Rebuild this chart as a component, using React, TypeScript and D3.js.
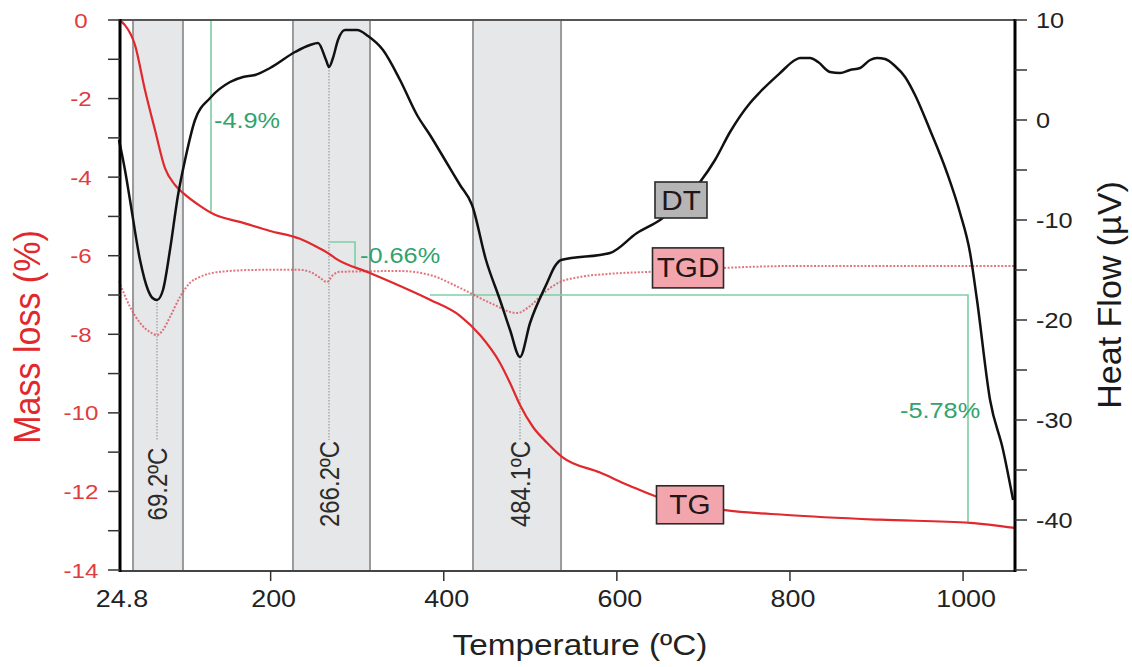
import React from 'react';
import * as d3 from 'd3';

const W = 1132;
const H = 667;

// DT (heat flow, µV) — right axis
const dtTemp = [24.8, 31.7, 37.5, 49.1, 58.3, 63.5, 68.7, 75.6, 83.7, 93.0, 101.1, 112.6, 130.1, 153.1, 168.1, 182.0, 199.3, 228.2, 245.5, 254.7, 264.0, 267.4, 272.0, 277.8, 285.9, 299.8, 312.5, 329.8, 349.5, 369.1, 384.1, 401.5, 418.8, 432.7, 448.8, 465.0, 476.6, 488.1, 499.7, 519.3, 528.6, 535.5, 592.1, 623.3, 649.9, 696.1, 713.4, 730.8, 753.9, 765.5, 788.6, 805.9, 811.7, 823.2, 832.5, 846.3, 857.9, 869.4, 881.0, 892.6, 900.6, 909.9, 921.4, 933.0, 944.5, 961.8, 981.5, 996.5, 1008.1, 1016.1, 1031.2, 1046.2, 1057.8];
const dtHeat = [-2, -5, -8, -14, -17, -17.8, -18, -17, -13, -7.5, -4, 0, 2.2, 3.8, 4.3, 4.5, 5.2, 6.8, 7.5, 7.7, 6, 5.3, 6.2, 8, 9, 9, 8.4, 7, 4, 0.5, -1.5, -4, -6.5, -8.5, -14, -18, -21, -23.7, -20.3, -16.3, -14.6, -14, -13.3, -11.3, -10, -6.2, -4, -1.2, 1.7, 2.8, 4.7, 6, 6.2, 6.2, 5.8, 4.8, 4.7, 5, 5.2, 6, 6.2, 6.1, 5.4, 4.3, 2.5, -1, -5.3, -9.3, -13.3, -18, -28, -33, -38];

// TG (mass loss, %) — left axis
const tgTemp = [24.8, 31.7, 43.3, 54.8, 66.4, 77.9, 89.5, 98.7, 118.4, 135.7, 164.6, 199.3, 233.9, 253.6, 267.4, 274.4, 314.8, 349.5, 384.1, 418.8, 441.9, 465.0, 476.6, 488.1, 503.1, 519.3, 536.6, 580.6, 615.3, 645.4, 722.8, 796.7, 904.2, 1008.1, 1060];
const tgMass = [0, -0.13, -0.64, -1.78, -2.8, -3.77, -4.2, -4.4, -4.73, -4.96, -5.14, -5.37, -5.57, -5.78, -5.95, -6.06, -6.44, -6.77, -7.12, -7.53, -8.02, -8.73, -9.24, -9.8, -10.36, -10.76, -11.12, -11.52, -11.86, -12.13, -12.47, -12.6, -12.72, -12.8, -12.93];

// TGD (derivative, drawn on left-axis scale)
const tgdTemp = [24.8, 37.5, 49.1, 61.0, 68.7, 75.6, 83.7, 95.3, 106.9, 118.4, 141.5, 187.7, 233.9, 245.5, 257.0, 265.1, 272.0, 280.1, 349.5, 384.1, 418.8, 453.5, 484.7, 499.7, 517.0, 534.3, 557.4, 592.1, 638.3, 723.8, 810.5, 926.0, 1060];
const tgdMass = [-6.65, -7.3, -7.71, -7.95, -8.02, -7.89, -7.56, -7.05, -6.69, -6.54, -6.41, -6.36, -6.36, -6.41, -6.56, -6.67, -6.49, -6.41, -6.39, -6.49, -6.82, -7.2, -7.46, -7.28, -6.92, -6.67, -6.54, -6.46, -6.41, -6.31, -6.26, -6.26, -6.26];

// shaded event bands (°C)
const bandStart = [41, 225.8, 433.8];
const bandEnd = [98.7, 314.8, 535.5];

// peaks
const peakTemp = [68.7, 267.4, 488.1];
const peakHeat = [-18, 5.3, -23.7];
const peakLabels = ['69.2ºC', '266.2ºC', '484.1ºC'];

// mass-loss step markers
const step1Temp = [131.1, 131.1];
const step1Mass = [0, -4.9];
const step2Temp = [268.5, 297.5, 297.5];
const step2Mass = [-5.65, -5.65, -6.28];
const step3Temp = [384.1, 1005.7, 1005.7];
const step3Mass = [-7.0, -7.0, -12.77];
const stepLabels = ['-4.9%', '-0.66%', '-5.78%'];
const stepLabelTemp = [134.6, 303.3, 927.2];
const stepLabelMass = [-2.75, -6.18, -10.13];

// series labels
const seriesNames = ['DT', 'TGD', 'TG'];
const seriesLabelTemp = [674.1, 682.2, 684.5];
const seriesLabelVal = [-8, -6.31, -12.34]; // DT on right axis, others left

// ticks
const xTickVals = [24.8, 200, 400, 600, 800, 1000];
const xTickLabels = ['24.8', '200', '400', '600', '800', '1000'];
const leftTicks = d3.range(0, -15, -1);
const rightTicks = d3.range(10, -46, -5);

const FONT = "'Liberation Sans', Arial, Helvetica, sans-serif";
const SX = 1.15;

export default function App() {
  const x = d3.scaleLinear().domain([24.8, 1060]).range([119, 1015]);
  const yL = d3.scaleLinear().domain([0, -14]).range([20, 570]);
  const yR = d3.scaleLinear().domain([10, -45]).range([20, 570]);

  const top = 20, bottom = 571, left = 120, right = 1015;

  const lineL = (ts: number[], vs: number[]) =>
    d3.line<number>().x((_, i) => x(ts[i])).y((v) => yL(v)).curve(d3.curveMonotoneX)(vs) || '';
  const lineR = (ts: number[], vs: number[]) =>
    d3.line<number>().x((_, i) => x(ts[i])).y((v) => yR(v)).curve(d3.curveMonotoneX)(vs) || '';
  const poly = (ts: number[], vs: number[]) =>
    d3.line<number>().x((_, i) => x(ts[i])).y((v) => yL(v))(vs) || '';

  const tf = (px: number, py: number, sx = SX) => `translate(${px},${py}) scale(${sx},1)`;

  const green = '#7ccfa5';
  const greenText = '#2fa36b';
  const redText = '#e23b3d';

  const boxW = [52, 71, 67];
  const boxH = [36, 40, 38];
  const boxFill = ['#b5b5b5', '#f3a5ad', '#f3a5ad'];

  return (
    <svg width={W} height={H} style={{ position: 'absolute', left: 0, top: 0, background: '#fff' }} fontFamily={FONT}>
      <rect x={0} y={0} width={W} height={H} fill="#fff" />
      {/* bands */}
      {bandStart.map((s, i) => (
        <g key={'b' + i}>
          <rect x={x(s)} y={top} width={x(bandEnd[i]) - x(s)} height={bottom - top} fill="#e6e7e9" />
          <line x1={x(s)} x2={x(s)} y1={top} y2={bottom} stroke="#9a9a9a" strokeWidth={2} />
          <line x1={x(bandEnd[i])} x2={x(bandEnd[i])} y1={top} y2={bottom} stroke="#9a9a9a" strokeWidth={2} />
        </g>
      ))}
      {/* step markers */}
      <path d={poly(step1Temp, step1Mass)} fill="none" stroke={green} strokeWidth={1.6} />
      <path d={poly(step2Temp, step2Mass)} fill="none" stroke={green} strokeWidth={1.6} />
      <path d={poly(step3Temp, step3Mass)} fill="none" stroke={green} strokeWidth={1.6} />
      {/* peak dotted lines */}
      {peakTemp.map((p, i) => (
        <line key={'pl' + i} x1={x(p)} x2={x(p)} y1={yR(peakHeat[i])} y2={440} stroke="#9a9a9a" strokeWidth={1.2} strokeDasharray="1.5 1.5" />
      ))}
      {/* TGD */}
      <path d={lineL(tgdTemp, tgdMass)} fill="none" stroke="#d9545e" strokeWidth={2} strokeDasharray="2 1.6" opacity={0.8} />
      {/* TG */}
      <path d={lineL(tgTemp, tgMass)} fill="none" stroke="#e0282d" strokeWidth={2.2} />
      {/* DT */}
      <path d={lineR(dtTemp, dtHeat)} fill="none" stroke="#111" strokeWidth={2.5} strokeLinejoin="round" />

      {/* peak labels */}
      {peakTemp.map((p, i) => (
        <text key={'pt' + i} transform={`translate(${x(p) + 10},${484}) scale(1.12,1) rotate(-90)`} textAnchor="middle" fontSize={24} fill="#2b2b2b">
          {peakLabels[i]}
        </text>
      ))}

      {/* step labels */}
      {stepLabels.map((s, i) => (
        <text key={'sl' + i} transform={tf(x(stepLabelTemp[i]), yL(stepLabelMass[i]))} fontSize={22} fill={greenText}>
          {s}
        </text>
      ))}

      {/* series boxes */}
      {seriesNames.map((n, i) => {
        const cx = x(seriesLabelTemp[i]);
        const cy = i === 0 ? yR(seriesLabelVal[i]) : yL(seriesLabelVal[i]);
        return (
          <g key={'sn' + i}>
            <rect x={cx - boxW[i] / 2} y={cy - boxH[i] / 2} width={boxW[i]} height={boxH[i]} fill={boxFill[i]} stroke="#2a2a2a" strokeWidth={1.6} />
            <text transform={tf(cx, cy + 9.5, 1.1)} textAnchor="middle" fontSize={27} fill="#231616">
              {n}
            </text>
          </g>
        );
      })}

      {/* frame */}
      <line x1={left} x2={right} y1={top} y2={top} stroke="#555" strokeWidth={1.8} />
      <line x1={left} x2={right} y1={bottom} y2={bottom} stroke="#444" strokeWidth={2} />
      <line x1={left} x2={left} y1={top - 1} y2={bottom + 1} stroke="#000" strokeWidth={3} />
      <line x1={right} x2={right} y1={top - 1} y2={bottom + 1} stroke="#000" strokeWidth={3} />

      {/* left ticks */}
      {leftTicks.map((v) => (
        <g key={'lt' + v}>
          <line x1={108} x2={left} y1={yL(v)} y2={yL(v)} stroke="#333" strokeWidth={1.5} />
          {v % 2 === 0 && (
            <text transform={tf(81, yL(v) + 7.5)} textAnchor="middle" fontSize={21} fill={redText}>
              {String(v)}
            </text>
          )}
        </g>
      ))}
      {/* right ticks */}
      {rightTicks.map((v) => (
        <g key={'rt' + v}>
          <line x1={right} x2={1027} y1={yR(v)} y2={yR(v)} stroke="#333" strokeWidth={1.5} />
          {v % 10 === 0 && (
            <text transform={tf(1036, yR(v) + 8)} fontSize={22} fill="#222">
              {String(v)}
            </text>
          )}
        </g>
      ))}
      {/* bottom ticks */}
      {xTickVals.map((t, i) => (
        <g key={'xt' + i}>
          {i > 0 && <line x1={x(t)} x2={x(t)} y1={bottom} y2={581} stroke="#333" strokeWidth={1.5} />}
          <text transform={tf(x(t) + 3, 607, 1.12)} textAnchor="middle" fontSize={24} fill="#222">
            {xTickLabels[i]}
          </text>
        </g>
      ))}

      {/* axis titles */}
      <text transform={tf(580, 655, 1.15)} textAnchor="middle" fontSize={29} fill="#222">
        Temperature (ºC)
      </text>
      <text transform={`translate(40,337) scale(1.08,1) rotate(-90)`} textAnchor="middle" fontSize={34} fill="#e0282d">
        Mass loss (%)
      </text>
      <text transform={`translate(1121,295) scale(1.0,1) rotate(-90)`} textAnchor="middle" fontSize={34} fill="#1a1a1a">
        Heat Flow (µV)
      </text>
    </svg>
  );
}
